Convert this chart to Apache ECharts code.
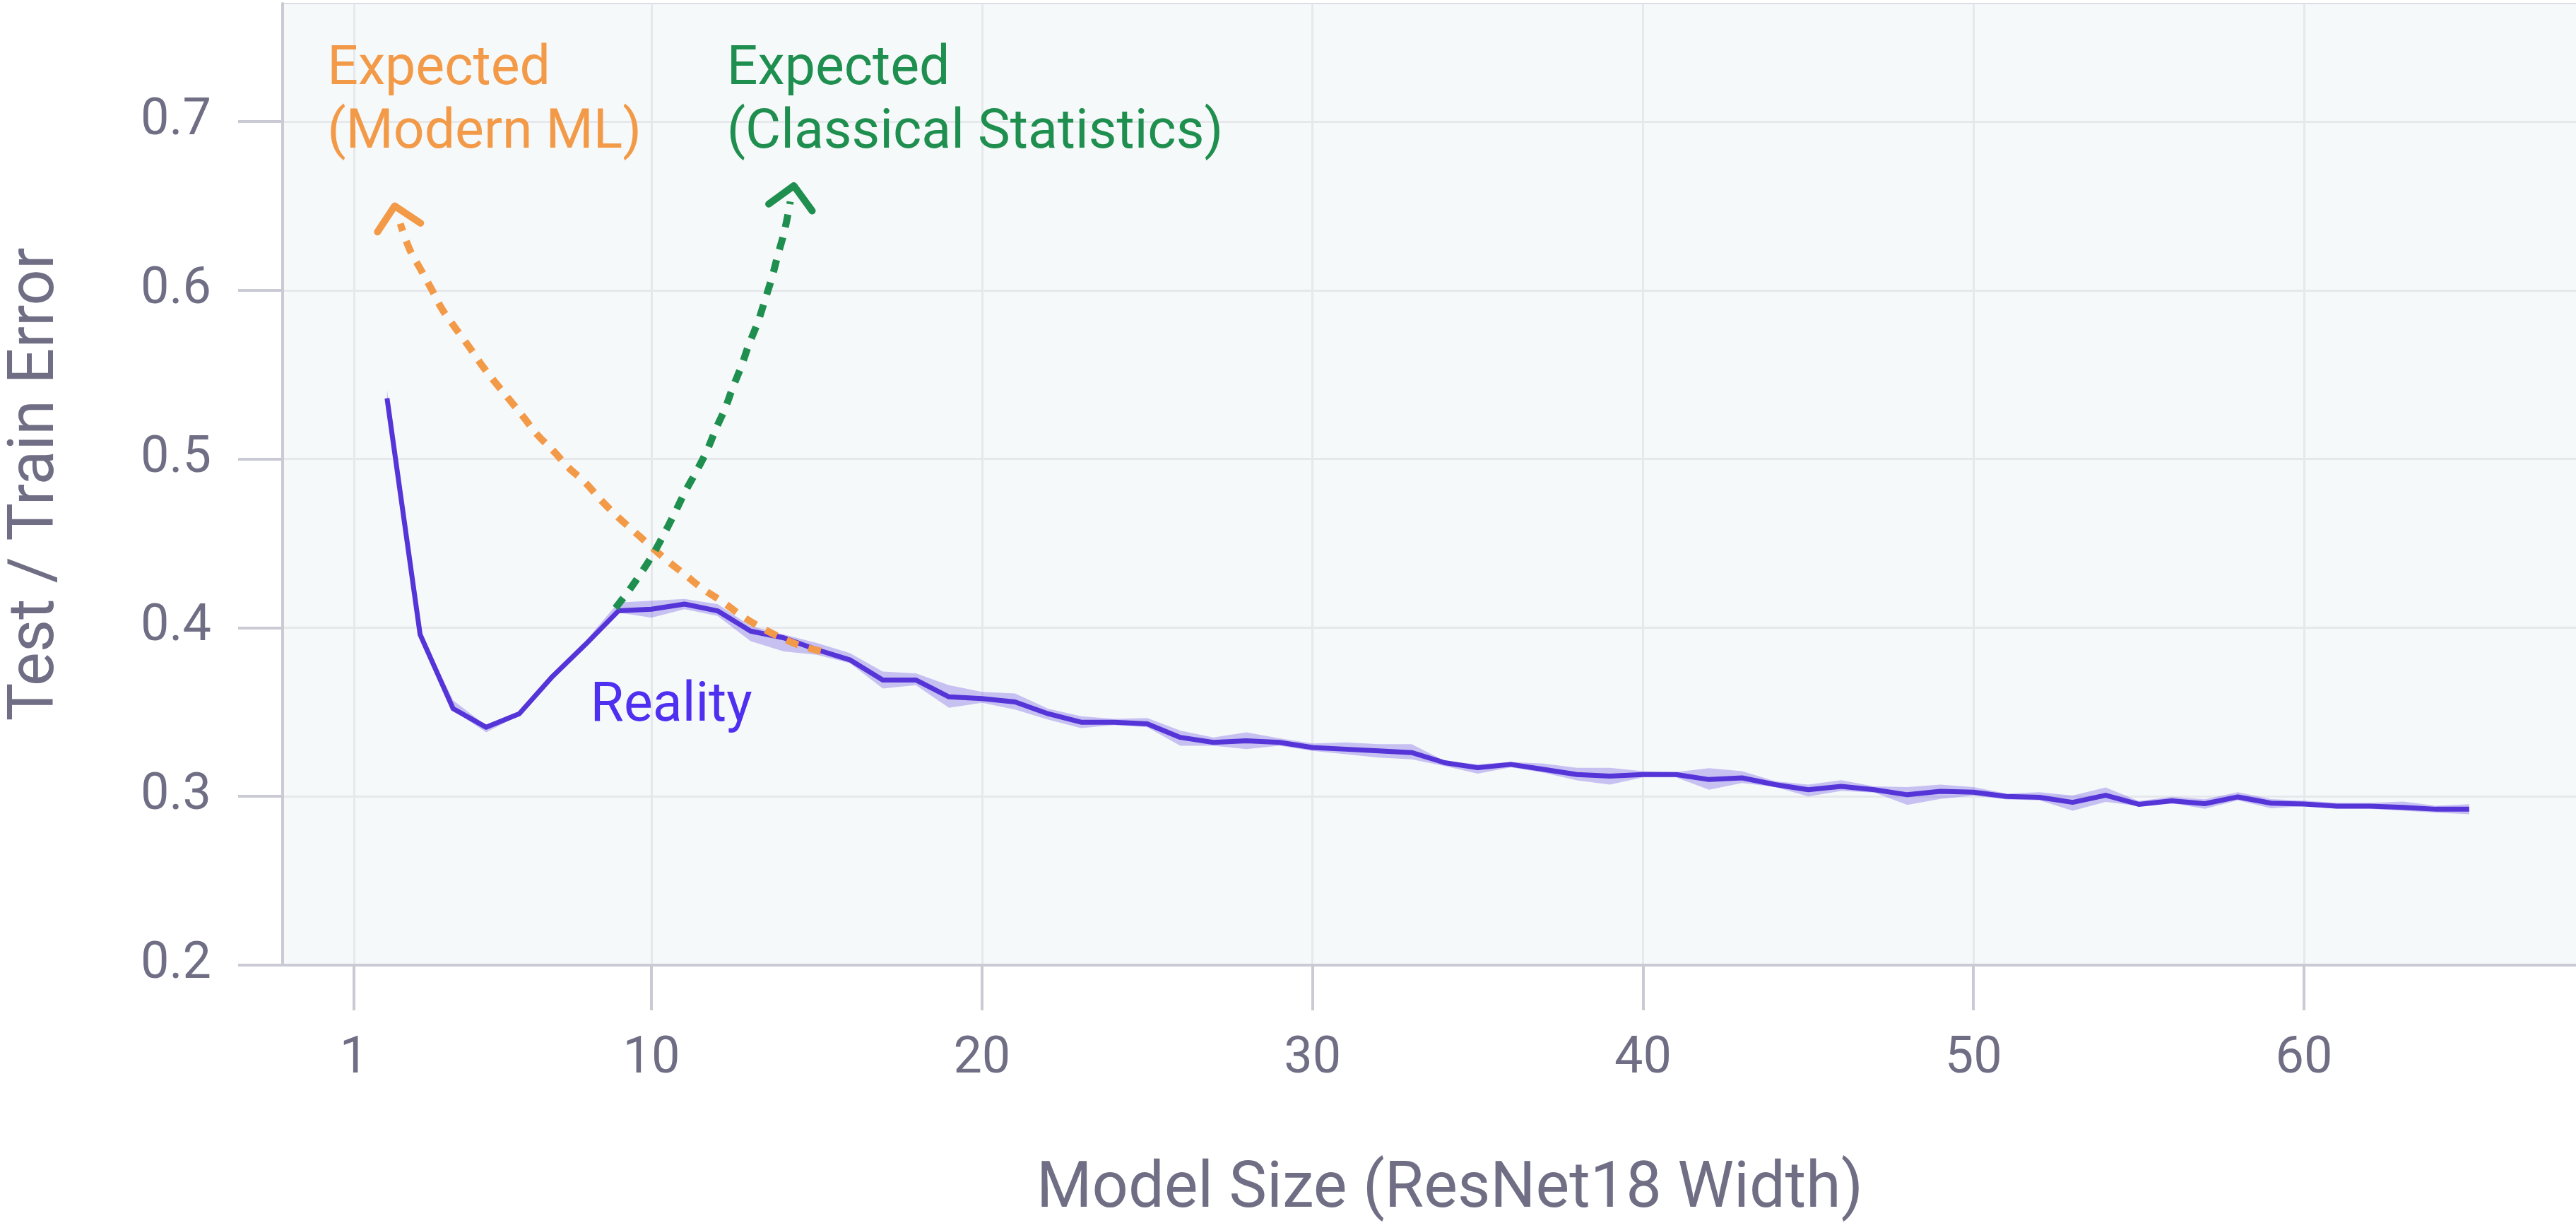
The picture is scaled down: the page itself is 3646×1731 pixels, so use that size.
<!DOCTYPE html>
<html><head><meta charset="utf-8">
<script src="https://cdn.jsdelivr.net/npm/echarts@6/dist/echarts.min.js"></script>
<style>html,body{margin:0;padding:0;background:#fff}#c{width:3646px;height:1731px}</style>
</head><body><div id="c"></div>
<script>
// ---- data ----
const widths = [2,3,4,5,6,7,8,9,10,11,12,13,14,15,16,17,18,19,20,21,22,23,24,25,26,27,28,29,30,31,32,33,34,35,36,37,38,39,40,41,42,43,44,45,46,47,48,49,50,51,52,53,54,55,56,57,58,59,60,61,62,63,64,65];
const errorMean = [0.536,0.396,0.352,0.341,0.349,0.371,0.390,0.410,0.411,0.414,0.410,0.398,0.394,0.387,0.381,0.369,0.369,0.359,0.358,0.356,0.349,0.344,0.344,0.343,0.335,0.332,0.333,0.332,0.329,0.328,0.327,0.326,0.320,0.317,0.319,0.316,0.313,0.312,0.313,0.313,0.310,0.311,0.307,0.304,0.306,0.304,0.301,0.303,0.3025,0.300,0.2995,0.2965,0.3007,0.2953,0.2974,0.2957,0.2997,0.296,0.2955,0.2942,0.2942,0.2935,0.2924,0.2924];
const errorLow = [0.533,0.395,0.351,0.338,0.348,0.370,0.389,0.409,0.406,0.411,0.407,0.392,0.386,0.384,0.379,0.364,0.366,0.3525,0.3555,0.3515,0.3455,0.3405,0.3423,0.341,0.330,0.330,0.328,0.330,0.327,0.325,0.323,0.322,0.318,0.3135,0.3173,0.314,0.3095,0.307,0.3113,0.3113,0.304,0.308,0.3056,0.300,0.3032,0.3023,0.295,0.2985,0.3005,0.2982,0.2977,0.2915,0.2967,0.2943,0.296,0.2927,0.2977,0.293,0.2942,0.2927,0.2927,0.2915,0.2904,0.2894];
const errorHigh = [0.541,0.397,0.357,0.342,0.350,0.373,0.392,0.415,0.416,0.417,0.414,0.401,0.396,0.391,0.385,0.374,0.373,0.366,0.362,0.361,0.352,0.3475,0.346,0.3465,0.339,0.335,0.338,0.3344,0.3314,0.332,0.331,0.331,0.321,0.319,0.3204,0.3195,0.317,0.317,0.315,0.3144,0.3167,0.315,0.309,0.307,0.3096,0.306,0.3055,0.307,0.3055,0.3017,0.3025,0.3005,0.3053,0.2973,0.2998,0.2983,0.3025,0.2984,0.2975,0.2962,0.2962,0.297,0.2944,0.2954];

const modernX = [15.12,14.52,13.98,13.43,12.78,12.18,11.53,10.98,10.43,9.94,9.45,8.96,8.47,7.98,7.49,7.05,6.56,6.13,5.69,5.25,4.87,4.49,4.05,3.67,3.35,3.02,2.69,2.40];
const modernY = [0.3861,0.3893,0.3936,0.3989,0.4064,0.4149,0.4234,0.4320,0.4405,0.4490,0.4575,0.4661,0.4757,0.4864,0.4949,0.5045,0.5141,0.5248,0.5355,0.5460,0.5556,0.5663,0.5781,0.5887,0.6005,0.6123,0.6240,0.6395];
const classicalX = [8.91,9.29,9.67,10.05,10.38,10.71,11.03,11.36,11.69,11.96,12.23,12.45,12.73,12.94,13.22,13.43,13.65,13.82,14.03,14.20];
const classicalY = [0.4117,0.4213,0.4320,0.4437,0.4555,0.4682,0.4810,0.4927,0.5055,0.5183,0.5301,0.5418,0.5556,0.5674,0.5812,0.5940,0.6079,0.6206,0.6356,0.6526];
const modernArrowTip = [2.23, 0.650];
const classicalArrowTip = [14.31, 0.662];

const xTicks = [1,10,20,30,40,50,60];
const yTicks = [0.2,0.3,0.4,0.5,0.6,0.7];

const annotationText = ['Expected\n(Modern ML)', 'Expected\n(Classical Statistics)', 'Reality'];
const annotationPos = [[0.19, 0.749], [12.28, 0.749], [8.15, 0.372]];

// ---- styles ----
const C = {
  purple: '#5535d8', band: 'rgba(90,62,224,0.30)', reality: '#4f2ff0',
  orange: '#f39a48', green: '#1f8f4f', text: '#6f6e84',
  axis: '#c9cad4', grid: '#e6e8ec', bg: '#f6f9fa'
};
const annotationColor = [C.orange, C.green, C.reality];
const FONT = 'Roboto';

const zip = (xs, ys) => xs.map((x, i) => [x, ys[i]]);

function arrowRender(angleDeg, color) {
  return function (params, api) {
    const p = api.coord([api.value(0), api.value(1)]);
    const t = angleDeg * Math.PI / 180;
    const bx = -Math.sin(t), by = Math.cos(t);
    const a = 45 * Math.PI / 180, L = 44;
    const rot = (x, y, g) => [x * Math.cos(g) - y * Math.sin(g), x * Math.sin(g) + y * Math.cos(g)];
    const l = rot(bx, by, a), r = rot(bx, by, -a);
    return {
      type: 'polyline',
      shape: { points: [[p[0] + l[0] * L, p[1] + l[1] * L], [p[0], p[1]], [p[0] + r[0] * L, p[1] + r[1] * L]] },
      style: { stroke: color, lineWidth: 10, fill: null, lineCap: 'round', lineJoin: 'round' }
    };
  };
}

// band drawn as one polygon through the library's coordinate conversion
function bandRender(params, api) {
  if (params.dataIndex !== 0) return null;
  const upper = widths.map((x, i) => api.coord([x, errorHigh[i]]));
  const lower = widths.map((x, i) => api.coord([x, errorLow[i]])).reverse();
  return { type: 'polygon', shape: { points: upper.concat(lower) }, style: { fill: C.band } };
}

const chart = echarts.init(document.getElementById('c'), null, { renderer: 'canvas' });
chart.setOption({
  animation: false,
  backgroundColor: '#ffffff',
  grid: {
    left: 400, right: -58, top: 5, bottom: 365,
    containLabel: false, outerBoundsMode: 'none',
    show: true, backgroundColor: C.bg, borderColor: '#dcdde3', borderWidth: 2
  },
  xAxis: {
    type: 'value', min: -1.16, max: 69.47,
    name: 'Model Size (ResNet18 Width)', nameLocation: 'middle', nameGap: 274,
    nameTextStyle: { fontFamily: FONT, fontSize: 90, color: C.text },
    axisLine: { show: true, onZero: false, lineStyle: { color: C.axis, width: 4 } },
    axisTick: { show: true, length: 64, customValues: xTicks, lineStyle: { color: C.axis, width: 4 } },
    axisLabel: { show: true, customValues: xTicks, margin: 98, fontFamily: FONT, fontSize: 72, color: C.text },
    splitLine: { show: true, lineStyle: { color: C.grid, width: 3 } }
  },
  yAxis: {
    type: 'value', min: 0.2, max: 0.77,
    name: 'Test / Train Error', nameLocation: 'middle', nameGap: 303, nameRotate: 90,
    nameTextStyle: { fontFamily: FONT, fontSize: 90, color: C.text },
    axisLine: { show: true, onZero: false, lineStyle: { color: C.axis, width: 4 } },
    axisTick: { show: true, length: 63, customValues: yTicks, lineStyle: { color: C.axis, width: 4 } },
    axisLabel: { show: true, customValues: yTicks, margin: 101, fontFamily: FONT, fontSize: 72, color: C.text,
      formatter: v => v.toFixed(1) },
    splitLine: { show: true, lineStyle: { color: C.grid, width: 3 } }
  },
  series: [
    { type: 'custom', name: 'band', data: zip(widths, errorMean), renderItem: bandRender, z: 2, silent: true },
    { type: 'line', name: 'Reality', data: zip(widths, errorMean), symbol: 'none', showSymbol: false,
      lineStyle: { color: C.purple, width: 7, join: 'round' }, z: 3 },
    { type: 'line', name: 'Modern', data: zip(modernX, modernY), symbol: 'none', showSymbol: false, smooth: 0.4,
      lineStyle: { color: C.orange, width: 10, type: [18, 15] }, z: 4 },
    { type: 'line', name: 'Classical', data: zip(classicalX, classicalY), symbol: 'none', showSymbol: false, smooth: 0.4,
      lineStyle: { color: C.green, width: 10, type: [18, 15] }, z: 4 },
    { type: 'custom', name: 'modernArrow', data: [modernArrowTip], renderItem: arrowRender(-11.5, C.orange), z: 5, silent: true },
    { type: 'custom', name: 'classicalArrow', data: [classicalArrowTip], renderItem: arrowRender(9, C.green), z: 5, silent: true },
    { type: 'custom', name: 'annotations', data: annotationPos, z: 6, silent: true,
      renderItem: function (params, api) {
        const p = api.coord([api.value(0), api.value(1)]);
        return { type: 'text', x: p[0], y: p[1],
          style: { text: annotationText[params.dataIndex], fill: annotationColor[params.dataIndex],
            fontFamily: FONT, fontSize: 77, lineHeight: 90, align: 'left', verticalAlign: 'top' } };
      } }
  ]
});
</script></body></html>
